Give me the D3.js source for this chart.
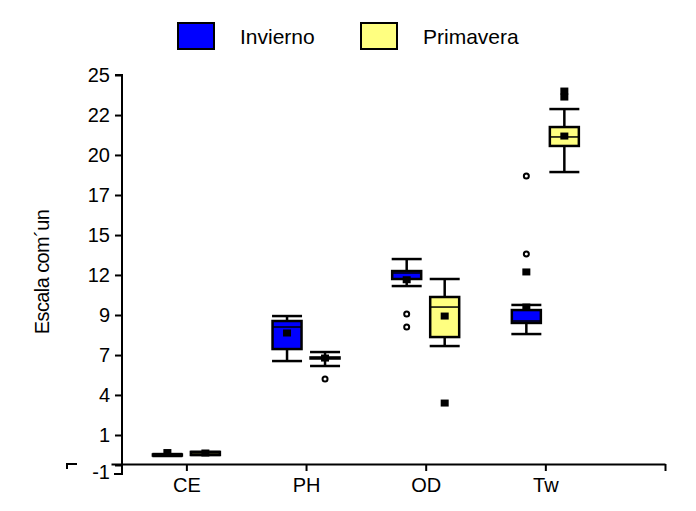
<!DOCTYPE html>
<html>
<head>
<meta charset="utf-8">
<script src="https://cdn.jsdelivr.net/npm/d3@7"></script>
<style>
  body { margin: 0; background: #fff; }
  text { font-family: "Liberation Sans", Arial, sans-serif; fill: #000; }
</style>
</head>
<body>
<div id="chart"></div>
<script>
// categories and series
var categories = ["CE", "PH", "OD", "Tw"];
var seasons = ["Invierno", "Primavera"];
var seasonColors = ["#0000ff", "#ffff80"];

// y tick values (evenly spaced) and the labels printed for them
var yTicks = [-1, 1, 3.67, 6.33, 9, 11.67, 14.33, 17, 19.67, 22.33, 25];
var yTickLabels = ["-1", "1", "4", "7", "9", "12", "15", "17", "20", "22", "25"];

// Invierno summaries per category
var invMin  = [-0.4, 5.93, 10.93, 7.73];
var invQ1   = [-0.36, 6.73, 11.4, 8.47];
var invMed  = [-0.33, 8.2, 11.8, 8.6];
var invQ3   = [-0.3, 8.6, 11.93, 9.33];
var invMax  = [-0.27, 8.93, 12.73, 9.67];
var invMean = [-0.17, 7.8, 11.35, 9.53];
var invOutOpen   = [[], [], [9.07, 8.2], [18.27, 13.07]];
var invOutFilled = [[], [], [], [11.87]];

// Primavera summaries per category
var priMin  = [-0.33, 5.6, 6.93, 18.53];
var priQ1   = [-0.33, 6.1, 7.53, 20.27];
var priMed  = [-0.2, 6.13, 9.53, 20.87];
var priQ3   = [-0.13, 6.17, 10.2, 21.53];
var priMax  = [-0.13, 6.53, 11.4, 22.73];
var priMean = [-0.2, 6.13, 8.93, 20.93];
var priOutOpen   = [[], [4.73], [], []];
var priOutFilled = [[], [], [3.13], [23.93, 23.53]];

var width = 696, height = 511;

var svg = d3.select("#chart").append("svg")
    .attr("width", width)
    .attr("height", height);

var x = d3.scaleLinear().domain([-0.63, 4]).range([111, 665]);
var y = d3.scaleLinear().domain([-1.6, 25]).range([474, 75]);

// y axis
var yAxis = svg.append("g")
    .attr("transform", "translate(122,0)")
    .call(d3.axisLeft(y)
        .tickValues(yTicks)
        .tickFormat(function(d, i) { return yTickLabels[i]; })
        .tickSize(7)
        .tickPadding(5));
yAxis.selectAll("path, line").attr("stroke", "#000").attr("stroke-width", 2);
yAxis.selectAll("text").style("font-size", "20px");
yAxis.selectAll(".tick text").filter(function(d) { return d === -1; }).attr("dy", "0.65em");
yAxis.select(".domain").attr("d", "M-8,474H0V75H-7");

// x axis
var xAxis = svg.append("g")
    .attr("transform", "translate(0,464)")
    .call(d3.axisBottom(x)
        .tickValues([0, 1, 2, 3, 4])
        .tickFormat(function(d) { return categories[d] || ""; })
        .tickSize(7)
        .tickSizeOuter(0)
        .tickPadding(7));
xAxis.selectAll("path, line").attr("stroke", "#000").attr("stroke-width", 2);
xAxis.selectAll("text").style("font-size", "20px");

// stray corner mark left of the axes
svg.append("path")
    .attr("d", "M67,469V464H77")
    .attr("fill", "none")
    .attr("stroke", "#000")
    .attr("stroke-width", 2);

// y axis title
svg.append("text")
    .attr("transform", "translate(49,272) rotate(-90)")
    .attr("text-anchor", "middle")
    .style("font-size", "20px")
    .style("letter-spacing", "-0.6px")
    .text("Escala com\u00b4un");

// boxes
var series = [
  { min: invMin, q1: invQ1, med: invMed, q3: invQ3, max: invMax, mean: invMean, open: invOutOpen, filled: invOutFilled, off: -19, color: seasonColors[0] },
  { min: priMin, q1: priQ1, med: priMed, q3: priQ3, max: priMax, mean: priMean, open: priOutOpen, filled: priOutFilled, off: 19, color: seasonColors[1] }
];
var boxW = 29, capW = 30;

series.forEach(function(s) {
  var g = svg.append("g");
  categories.forEach(function(c, i) {
    var cx = x(i) + s.off;
    g.append("line")
        .attr("x1", cx).attr("x2", cx)
        .attr("y1", y(s.min[i])).attr("y2", y(s.max[i]))
        .attr("stroke", "#000").attr("stroke-width", 2.5);
    [s.min[i], s.max[i]].forEach(function(v) {
      g.append("line")
          .attr("x1", cx - capW / 2).attr("x2", cx + capW / 2)
          .attr("y1", y(v)).attr("y2", y(v))
          .attr("stroke", "#000").attr("stroke-width", 2.5);
    });
    g.append("rect")
        .attr("x", cx - boxW / 2)
        .attr("y", y(s.q3[i]))
        .attr("width", boxW)
        .attr("height", Math.max(1, y(s.q1[i]) - y(s.q3[i])))
        .attr("fill", s.color)
        .attr("stroke", "#000").attr("stroke-width", 2.5);
    g.append("line")
        .attr("x1", cx - boxW / 2).attr("x2", cx + boxW / 2)
        .attr("y1", y(s.med[i])).attr("y2", y(s.med[i]))
        .attr("stroke", "#000").attr("stroke-width", 1.5);
    g.append("rect")
        .attr("x", cx - 4).attr("y", y(s.mean[i]) - 3.5)
        .attr("width", 8).attr("height", 7)
        .attr("fill", "#000");
    s.open[i].forEach(function(v) {
      g.append("circle")
          .attr("cx", cx).attr("cy", y(v)).attr("r", 2.5)
          .attr("fill", "#fff").attr("stroke", "#000").attr("stroke-width", 2);
    });
    s.filled[i].forEach(function(v) {
      g.append("rect")
          .attr("x", cx - 4).attr("y", y(v) - 3.5)
          .attr("width", 8).attr("height", 7)
          .attr("fill", "#000");
    });
  });
});

// legend
var legendX = [178, 361];
seasons.forEach(function(name, i) {
  svg.append("rect")
      .attr("x", legendX[i]).attr("y", 23)
      .attr("width", 36).attr("height", 26)
      .attr("fill", seasonColors[i])
      .attr("stroke", "#000").attr("stroke-width", 2);
  svg.append("text")
      .attr("x", legendX[i] + 62).attr("y", 44)
      .style("font-size", "21px")
      .text(name);
});
</script>
</body>
</html>
